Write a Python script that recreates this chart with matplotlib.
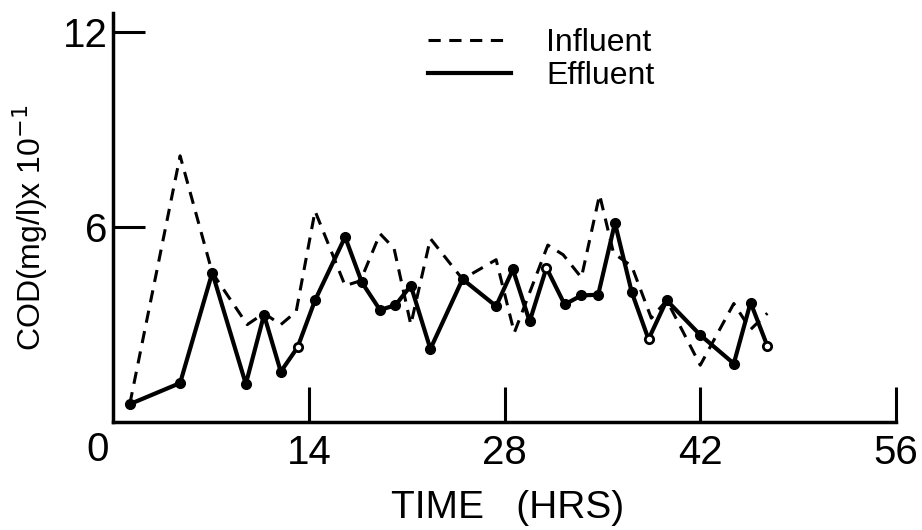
import matplotlib.pyplot as plt
import numpy as np

plt.rcParams['font.family'] = ['Liberation Sans', 'DejaVu Sans']

# influent COD (dashed)
t_in = [1.2, 4.8, 7.1, 9.6, 10.8, 12.0, 13.1, 14.45, 16.6, 17.7, 19.1, 20.1,
        21.3, 22.7, 25.0, 27.4, 28.7, 31.1, 32.2, 33.5, 34.8, 35.8, 37.1,
        38.5, 39.6, 42.0, 44.4, 45.6, 46.8]
cod_in = [0.55, 8.2, 4.6, 3.0, 3.35, 3.0, 3.4, 6.5, 4.2, 4.35, 5.8, 5.35,
          3.0, 5.65, 4.4, 5.0, 2.75, 5.45, 5.15, 4.45, 7.0, 5.2, 4.8,
          3.2, 3.75, 1.75, 3.65, 2.85, 3.35]

# effluent COD (solid)
t_eff = [1.2, 4.8, 7.1, 9.5, 10.8, 12.0, 13.2, 14.45, 16.6, 17.8, 19.1, 20.2,
         21.3, 22.7, 25.0, 27.4, 28.6, 29.8, 31.0, 32.3, 33.5, 34.7, 35.9,
         37.1, 38.3, 39.6, 42.0, 44.4, 45.6, 46.8]
cod_eff = [0.55, 1.2, 4.6, 1.17, 3.3, 1.55, 2.3, 3.75, 5.7, 4.3, 3.45, 3.6,
           4.2, 2.25, 4.4, 3.57, 4.7, 3.1, 4.75, 3.62, 3.9, 3.92, 6.13,
           4.0, 2.55, 3.75, 2.68, 1.8, 3.68, 2.34]
open_pts = [6, 18, 24, 29]   # samples drawn as hollow circles

x_ticks = [14, 28, 42, 56]
y_ticks = [6, 12]

fig = plt.figure(figsize=(9.22, 5.30), dpi=100)
ax = fig.add_axes([113/922, 1 - 422/530, (896 - 113)/922, (422 - 13)/530])

ax.plot(t_in, cod_in, color='black', lw=2.2, ls=(0, (4, 2.8)), label='Influent')
ax.plot(t_eff, cod_eff, color='black', lw=3.0, label='Effluent')

te = np.array(t_eff)
ce = np.array(cod_eff)
filled = np.ones(len(te), bool)
filled[open_pts] = False
ax.plot(te[filled], ce[filled], 'o', color='black', ms=7, ls='none')
ax.plot(te[~filled], ce[~filled], 'o', mfc='white', mec='black', mew=2, ms=6, ls='none')

ax.set_xlim(0, 56)
ax.set_ylim(0, 12.6)
for s in ['top', 'right']:
    ax.spines[s].set_visible(False)
for s in ['left', 'bottom']:
    ax.spines[s].set_linewidth(2.5)

ax.set_xticks(x_ticks)
ax.set_yticks(y_ticks)
ax.tick_params(axis='x', direction='in', length=25, width=2.2, labelsize=29, pad=9)
ax.tick_params(axis='y', direction='in', length=23, width=2.2, labelsize=29, pad=4)
ax.annotate('0', xy=(0, 0), xytext=(-15, -28), textcoords='offset pixels',
            ha='center', va='center', fontsize=29)

fig.text(30/922, 1 - 228/530, 'COD(mg/l)x 10$^{-1}$', rotation=90,
         ha='center', va='center', fontsize=23)
fig.text(508/922, 1 - 508/530, 'TIME   (HRS)', ha='center', va='center',
         fontsize=28)

ax.legend(loc='upper left', bbox_to_anchor=(428/922, 1 - 28/530),
          bbox_transform=fig.transFigure, frameon=False, fontsize=23,
          handlelength=2.6, handletextpad=1.1, labelspacing=0.1,
          borderpad=0, borderaxespad=0)

fig.savefig('out.png', dpi=100)
